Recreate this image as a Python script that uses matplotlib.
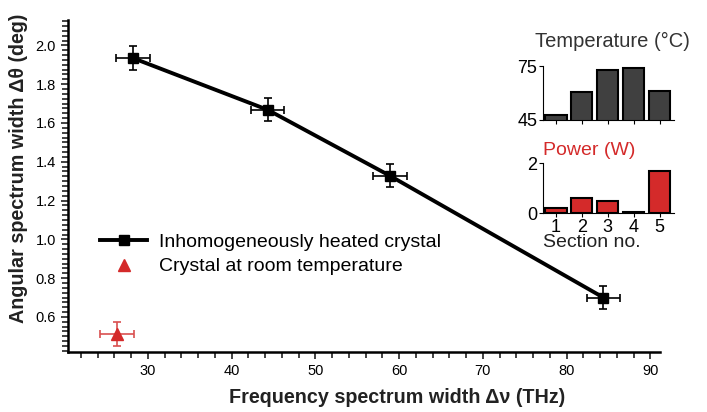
import numpy as np
import matplotlib.pyplot as plt
from matplotlib.ticker import MultipleLocator

plt.rcParams['font.family'] = ['Liberation Sans', 'DejaVu Sans']

# heated crystal measurements
freq_width = [28.2, 44.3, 58.9, 84.4]
angle_width = [1.935, 1.668, 1.328, 0.70]
freq_err = [2.0, 2.0, 2.0, 2.0]
angle_err = [0.06, 0.06, 0.06, 0.06]

# room temperature reference
room_freq = [26.3]
room_angle = [0.512]
room_freq_err = [2.0]
room_angle_err = [0.06]

sections = [1, 2, 3, 4, 5]
temperature = [47.8, 60.6, 72.8, 73.9, 61.0]
power = [0.20, 0.61, 0.49, 0.04, 1.70]

red = '#d42a2a'

fig = plt.figure(figsize=(7.07, 4.12), dpi=100)
ax = fig.add_axes([0.096, 0.146, 0.838, 0.805])

ax.errorbar(freq_width, angle_width, xerr=freq_err, yerr=angle_err,
            color='black', lw=2.8, marker='s', ms=7, ecolor='black',
            elinewidth=1.2, capsize=3, capthick=1.2,
            label='Inhomogeneously heated crystal')
ax.errorbar(room_freq, room_angle, xerr=room_freq_err, yerr=room_angle_err,
            color=red, ls='none', marker='^', ms=8, ecolor='#d95050',
            elinewidth=1.2, capsize=3, capthick=1.2,
            label='Crystal at room temperature')

ax.set_xlim(20.45, 91.2)
ax.set_ylim(0.42, 2.13)
ax.xaxis.set_major_locator(MultipleLocator(10))
ax.xaxis.set_minor_locator(MultipleLocator(2))
ax.yaxis.set_major_locator(MultipleLocator(0.2))
ax.yaxis.set_minor_locator(MultipleLocator(0.025))
ax.set_xticks([30, 40, 50, 60, 70, 80, 90])
ax.yaxis.set_major_formatter(plt.FuncFormatter(lambda v, p: f'{v:.1f}'))
ax.tick_params(which='both', direction='out', width=1.2, labelsize=10.5, color='#222222')
ax.tick_params(which='major', length=5)
ax.tick_params(which='minor', length=4)
for s in ['top', 'right']:
    ax.spines[s].set_visible(False)
for s in ['left', 'bottom']:
    ax.spines[s].set_linewidth(1.8)

ax.set_xlabel('Frequency spectrum width Δν (THz)', fontsize=14.2, fontweight='bold',
              color='#222222')
ax.set_ylabel('Angular spectrum width Δθ (deg)', fontsize=14.2, fontweight='bold',
              color='#222222')
ax.xaxis.set_label_coords(0.556, -0.108)
ax.yaxis.set_label_coords(-0.068, 0.554)

handles, labels = ax.get_legend_handles_labels()
handles = [h[0] for h in handles]
ax.legend(handles, labels, loc='upper left', bbox_to_anchor=(0.025, 0.41),
          frameon=False, fontsize=14, handlelength=2.4, labelspacing=0.35,
          handletextpad=0.6)

# inset: section temperatures
ax_t = fig.add_axes([0.768, 0.709, 0.185, 0.130])
ax_t.bar(sections, temperature, width=0.82, color='#404040',
         edgecolor='black', lw=1.5)
ax_t.set_ylim(45, 75)
ax_t.set_xlim(0.5, 5.55)
ax_t.set_yticks([45, 75])
ax_t.set_xticks(sections)
ax_t.set_xticklabels([])
ax_t.tick_params(axis='y', labelsize=13, length=3, direction='out', pad=1)
ax_t.tick_params(axis='x', length=3, direction='out')
for s in ['top', 'right']:
    ax_t.spines[s].set_visible(False)
ax_t.set_title('Temperature (°C)', fontsize=14.5, color='#333333', pad=14, loc='right',
               x=1.12)

# inset: heating power per section
ax_p = fig.add_axes([0.768, 0.483, 0.185, 0.121])
ax_p.bar(sections, power, width=0.82, color=red, edgecolor='black', lw=1.5)
ax_p.set_ylim(0, 2)
ax_p.set_xlim(0.5, 5.55)
ax_p.set_yticks([0, 2])
ax_p.set_xticks(sections)
ax_p.tick_params(labelsize=13, length=3, direction='out', pad=1)
for s in ['top', 'right']:
    ax_p.spines[s].set_visible(False)
ax_p.set_title('Power (W)', fontsize=14, color=red, pad=6, loc='left')
ax_p.set_xlabel('Section no.', fontsize=14, color='#222222', labelpad=-1, loc='left')

fig.savefig('out.png', dpi=100)
